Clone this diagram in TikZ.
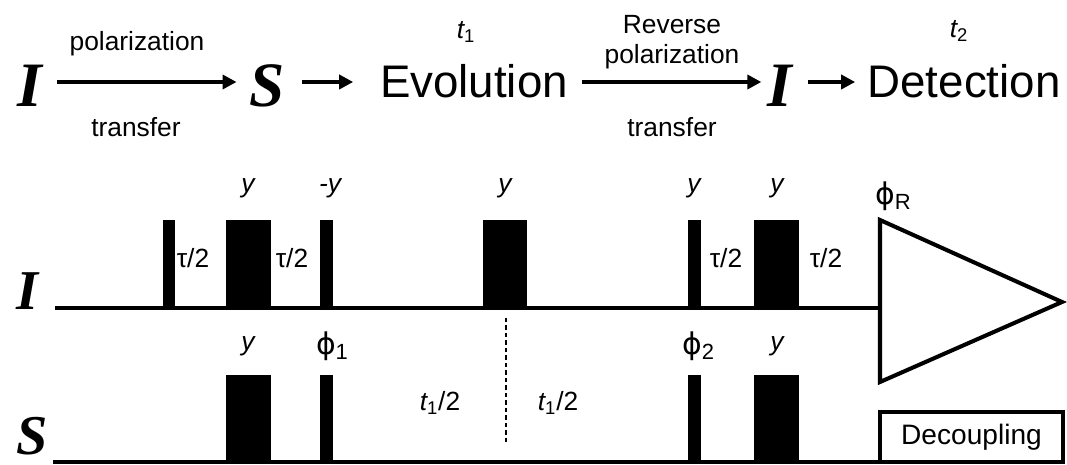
\documentclass[tikz,border=0pt]{standalone}
\usepackage{fontspec}
\setmainfont{Liberation Sans}
\newfontfamily\tms{Liberation Serif}
\newfontfamily\grk{DejaVu Sans}
\usepackage{tikz}
\usetikzlibrary{arrows.meta}
\tikzset{
  big/.style={font=\tms\bfseries\itshape\fontsize{36}{36}\selectfont,inner sep=0pt,text height=1cm,text depth=0pt},
  chan/.style={font=\tms\bfseries\itshape\fontsize{32}{32}\selectfont,inner sep=0pt,anchor=base},
  word/.style={font=\fontsize{26}{26}\selectfont,inner sep=0pt,text height=0.64cm,text depth=0pt},
  lbl/.style={font=\fontsize{15}{17}\selectfont,inner sep=1pt,align=center},
  ital/.style={lbl,font=\fontsize{15}{17}\selectfont\itshape},
  arr/.style={-{Triangle[length=0.28cm,width=0.28cm]},line width=2.2pt},
  ln/.style={line width=2.3pt},
  dsh/.style={line width=1.1pt,dash pattern=on 0.09cm off 0.06cm},
}
\newcommand{\ph}[1]{{\grk\fontsize{17}{17}\selectfont ϕ}\raisebox{-3pt}{\fontsize{12.5}{12.5}\selectfont #1}}
\newcommand{\tsub}[1]{{\itshape t}\textsubscript{#1}}

\begin{document}
\begin{tikzpicture}[x=0.02cm,y=-0.02cm]
\useasboundingbox (0,0) rectangle (1067,465);
% transfer scheme
\node[big] (tI) at (30,82) {I};
\node[big] (tS) at (267,82) {S};
\node[word] (evo) at (474,82) {Evolution};
\node[big] (tI2) at (780,82) {I};
\node[word] (det) at (964,82) {Detection};
\draw[arr,shorten <=0.29cm,shorten >=0.25cm] (tI)--(tS);
\draw[arr,shorten <=0.35cm,shorten >=0.53cm] (tS)--(evo);
\draw[arr,shorten <=0.27cm,shorten >=0.12cm] (evo)--(tI2);
\draw[arr,shorten <=0.31cm,shorten >=0.24cm] (tI2)--(det);
\node[lbl] (pol) at (137,44) {polarization};
\node[lbl] (tr) at (136,127) {transfer};
\node[lbl] (rev) at (672,42) {Reverse\\polarization};
\node[lbl] (tr2) at (672,127) {transfer};
\node[lbl] (t1) at (466,32) {\tsub{1}};
\node[lbl] (t2) at (959,31) {\tsub{2}};
% pulse sequence
\node[chan] (lI) at (27,310) {I};
\node[chan] (lS) at (32,454) {S};
\draw[ln] (55,308)--(880,308);
\draw[ln] (53,462)--(1064,462);
\foreach \a/\b in {163/175,226/271,320/333,483/527,688/701,754/799} \fill (\a,220) rectangle (\b,308);
\foreach \a/\b in {226/271,320/333,688/701,754/799} \fill (\a,375) rectangle (\b,462);
\foreach \x/\t [count=\i] in {248/y,330/-y,505/y,694/y,777/y} \node[ital] (pI\i) at (\x,188) {\t};
\foreach \x [count=\i] in {193,292,726,826} \node[lbl] (tau\i) at (\x,258) {τ/2};
\node[lbl] (phR) at (893,196) {\ph{R}};
\draw[ln,line join=miter] (880,220)--(1062,302)--(880,382)--cycle;
\node[ital] (pS1) at (248,346) {y};
\node[ital] (pS2) at (777,346) {y};
\node[lbl] (ph1) at (332,346) {\ph{1}};
\node[lbl] (ph2) at (698,346) {\ph{2}};
\node[lbl] (h1) at (440,403) {\tsub{1}/2};
\node[lbl] (h2) at (558,403) {\tsub{1}/2};
\draw[dsh] (506,318)--(506,444);
\node[draw,ln,minimum width=3.66cm,minimum height=1cm,font=\fontsize{16}{16}\selectfont] (dec) at (971.5,437) {Decoupling};
\end{tikzpicture}
\end{document}
